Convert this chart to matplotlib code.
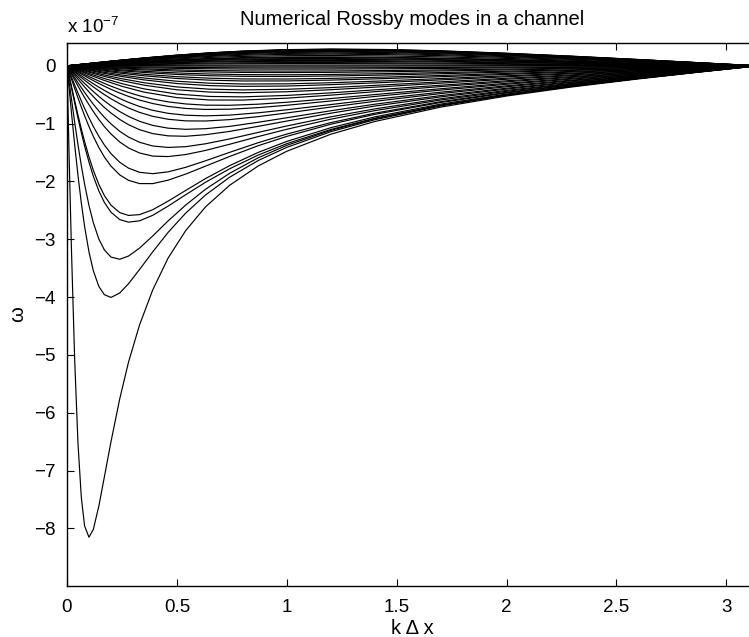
import matplotlib
matplotlib.use("Agg")
import matplotlib.pyplot as plt
import numpy as np

plt.rcParams['font.family'] = ['Liberation Sans', 'DejaVu Sans']

# k*dx sample positions (fine sampling for the deep modes)
kdx_fine = [0, 0.01, 0.02, 0.035, 0.05, 0.065, 0.08, 0.1, 0.12, 0.145, 0.17, 0.2,
            0.24, 0.28, 0.33, 0.39, 0.46, 0.54, 0.63, 0.74, 0.87, 1.0, 1.2, 1.4,
            1.7, 2.0, 2.3, 2.6, 2.9, np.pi]
# coarser sampling for the shallow modes
kdx_coarse = [0, 0.05, 0.1, 0.17, 0.25, 0.35, 0.5, 0.65, 0.8, 1.0, 1.2, 1.45,
              1.7, 2.0, 2.3, 2.6, 2.9, np.pi]

# omega in units of 1e-7 -- deep modes (fine sampling)
mode_01 = [0, -1.617, -3.141, -5.092, -6.531, -7.456, -7.956, -8.152, -8.014, -7.610, -7.109, -6.502, -5.757, -5.122, -4.481, -3.875, -3.324, -2.849, -2.440, -2.065, -1.731, -1.477, -1.183, -0.963, -0.714, -0.522, -0.364, -0.226, -0.099, 0]
mode_02 = [0, -0.402, -0.798, -1.369, -1.897, -2.368, -2.776, -3.218, -3.546, -3.816, -3.957, -4.005, -3.928, -3.767, -3.522, -3.217, -2.880, -2.547, -2.234, -1.926, -1.637, -1.410, -1.139, -0.932, -0.694, -0.507, -0.354, -0.220, -0.096, 0]
mode_03 = [0, -0.175, -0.349, -0.606, -0.853, -1.088, -1.308, -1.575, -1.808, -2.052, -2.243, -2.409, -2.538, -2.587, -2.573, -2.488, -2.340, -2.155, -1.950, -1.726, -1.497, -1.307, -1.070, -0.883, -0.662, -0.488, -0.341, -0.212, -0.093, 0]
mode_04 = [0, -0.096, -0.191, -0.332, -0.471, -0.605, -0.735, -0.898, -1.050, -1.220, -1.369, -1.518, -1.668, -1.769, -1.841, -1.865, -1.833, -1.755, -1.642, -1.496, -1.329, -1.180, -0.982, -0.819, -0.620, -0.459, -0.323, -0.201, -0.088, 0]
mode_05 = [0, -0.059, -0.117, -0.205, -0.291, -0.375, -0.458, -0.564, -0.665, -0.782, -0.890, -1.004, -1.132, -1.232, -1.322, -1.386, -1.411, -1.398, -1.348, -1.264, -1.151, -1.040, -0.882, -0.745, -0.570, -0.425, -0.300, -0.187, -0.082, 0]
mode_06 = [0, -0.039, -0.077, -0.135, -0.192, -0.249, -0.304, -0.376, -0.445, -0.528, -0.606, -0.691, -0.791, -0.875, -0.959, -1.030, -1.078, -1.098, -1.087, -1.047, -0.976, -0.898, -0.777, -0.664, -0.515, -0.387, -0.274, -0.172, -0.076, 0]
mode_07 = [0, -0.027, -0.053, -0.093, -0.133, -0.172, -0.210, -0.261, -0.310, -0.369, -0.425, -0.488, -0.565, -0.632, -0.703, -0.769, -0.821, -0.854, -0.865, -0.852, -0.812, -0.760, -0.670, -0.580, -0.456, -0.345, -0.246, -0.155, -0.068, 0]
mode_08 = [0, -0.019, -0.038, -0.066, -0.094, -0.122, -0.149, -0.185, -0.220, -0.263, -0.304, -0.351, -0.409, -0.461, -0.518, -0.574, -0.623, -0.659, -0.680, -0.682, -0.663, -0.630, -0.566, -0.497, -0.396, -0.302, -0.216, -0.136, -0.060, 0]

alt_1 = [0, -0.285, -0.566, -0.977, -1.365, -1.722, -2.045, -2.415, -2.715, -2.996, -3.183, -3.307, -3.345, -3.289, -3.152, -2.942, -2.682, -2.408, -2.135, -1.858, -1.590, -1.375, -1.116, -0.915, -0.683, -0.502, -0.351, -0.218, -0.095, 0]
alt_2 = [0, -0.186, -0.371, -0.643, -0.905, -1.153, -1.385, -1.666, -1.911, -2.164, -2.362, -2.531, -2.659, -2.703, -2.680, -2.585, -2.426, -2.229, -2.014, -1.780, -1.543, -1.346, -1.101, -0.907, -0.681, -0.501, -0.351, -0.218, -0.096, 0]
alt_3 = [0, -0.113, -0.225, -0.392, -0.555, -0.712, -0.862, -1.050, -1.222, -1.413, -1.576, -1.734, -1.886, -1.980, -2.036, -2.037, -1.977, -1.872, -1.735, -1.567, -1.381, -1.220, -1.010, -0.839, -0.634, -0.469, -0.329, -0.205, -0.090, 0]
alt_4 = [0, -0.071, -0.141, -0.246, -0.349, -0.450, -0.548, -0.673, -0.791, -0.928, -1.050, -1.178, -1.317, -1.420, -1.507, -1.561, -1.569, -1.534, -1.463, -1.356, -1.223, -1.097, -0.923, -0.775, -0.591, -0.440, -0.310, -0.193, -0.085, 0]
alt_5 = [0, -0.047, -0.093, -0.163, -0.232, -0.299, -0.366, -0.451, -0.533, -0.630, -0.720, -0.816, -0.927, -1.018, -1.104, -1.172, -1.211, -1.218, -1.191, -1.134, -1.046, -0.955, -0.819, -0.696, -0.537, -0.402, -0.284, -0.178, -0.078, 0]
alt_6 = [0, -0.032, -0.063, -0.110, -0.157, -0.203, -0.248, -0.307, -0.364, -0.433, -0.497, -0.569, -0.655, -0.729, -0.805, -0.873, -0.924, -0.952, -0.954, -0.930, -0.878, -0.815, -0.713, -0.614, -0.480, -0.362, -0.257, -0.162, -0.071, 0]
alt_7 = [0, -0.022, -0.044, -0.077, -0.110, -0.142, -0.173, -0.215, -0.256, -0.305, -0.352, -0.406, -0.471, -0.529, -0.592, -0.652, -0.702, -0.737, -0.754, -0.750, -0.723, -0.682, -0.608, -0.530, -0.420, -0.319, -0.228, -0.144, -0.063, 0]

# shallow modes (coarse sampling)
mode_09 = [0, -0.0671, -0.1327, -0.2195, -0.3080, -0.3981, -0.4880, -0.5298, -0.5364, -0.5118, -0.4676, -0.4023, -0.3354, -0.2583, -0.1859, -0.1176, -0.0519, 0]
mode_10 = [0, -0.0480, -0.0952, -0.1581, -0.2233, -0.2920, -0.3649, -0.4040, -0.4165, -0.4055, -0.3763, -0.3284, -0.2766, -0.2148, -0.1554, -0.0986, -0.0436, 0]
mode_11 = [0, -0.0339, -0.0673, -0.1122, -0.1593, -0.2101, -0.2666, -0.3000, -0.3140, -0.3111, -0.2928, -0.2590, -0.2202, -0.1723, -0.1254, -0.0798, -0.0354, 0]
mode_12 = [0, -0.0232, -0.0462, -0.0771, -0.1099, -0.1459, -0.1874, -0.2137, -0.2265, -0.2279, -0.2172, -0.1944, -0.1668, -0.1316, -0.0962, -0.0614, -0.0273, 0]
mode_13 = [0, -0.0149, -0.0297, -0.0497, -0.0711, -0.0948, -0.1230, -0.1418, -0.1519, -0.1548, -0.1492, -0.1351, -0.1169, -0.0928, -0.0682, -0.0437, -0.0194, 0]
mode_14 = [0, -0.0084, -0.0167, -0.0279, -0.0400, -0.0537, -0.0702, -0.0816, -0.0882, -0.0909, -0.0885, -0.0809, -0.0706, -0.0564, -0.0416, -0.0267, -0.0119, 0]
mode_15 = [0, -0.0031, -0.0062, -0.0104, -0.0149, -0.0201, -0.0264, -0.0310, -0.0338, -0.0351, -0.0345, -0.0318, -0.0280, -0.0225, -0.0167, -0.0107, -0.0048, 0]
mode_16 = [0, 0.0012, 0.0023, 0.0039, 0.0056, 0.0075, 0.0100, 0.0118, 0.0129, 0.0135, 0.0134, 0.0125, 0.0110, 0.0089, 0.0066, 0.0043, 0.0019, 0]
mode_17 = [0, 0.0047, 0.0093, 0.0156, 0.0225, 0.0305, 0.0405, 0.0480, 0.0529, 0.0560, 0.0557, 0.0522, 0.0464, 0.0377, 0.0282, 0.0182, 0.0082, 0]
mode_18 = [0, 0.0076, 0.0151, 0.0254, 0.0366, 0.0496, 0.0662, 0.0788, 0.0873, 0.0929, 0.0931, 0.0878, 0.0784, 0.0641, 0.0480, 0.0311, 0.0139, 0]
mode_19 = [0, 0.0100, 0.0199, 0.0335, 0.0484, 0.0657, 0.0879, 0.1051, 0.1169, 0.1251, 0.1260, 0.1195, 0.1072, 0.0880, 0.0661, 0.0430, 0.0193, 0]
mode_20 = [0, 0.0120, 0.0240, 0.0404, 0.0583, 0.0792, 0.1063, 0.1275, 0.1424, 0.1531, 0.1549, 0.1476, 0.1330, 0.1096, 0.0826, 0.0537, 0.0241, 0]
mode_21 = [0, 0.0136, 0.0271, 0.0457, 0.0660, 0.0898, 0.1208, 0.1452, 0.1627, 0.1757, 0.1785, 0.1709, 0.1546, 0.1278, 0.0966, 0.0630, 0.0283, 0]
mode_22 = [0, 0.0152, 0.0302, 0.0509, 0.0737, 0.1003, 0.1352, 0.1629, 0.1830, 0.1983, 0.2020, 0.1941, 0.1761, 0.1460, 0.1106, 0.0722, 0.0324, 0]
mode_23 = [0, 0.0163, 0.0324, 0.0547, 0.0792, 0.1078, 0.1456, 0.1757, 0.1978, 0.2150, 0.2197, 0.2118, 0.1927, 0.1602, 0.1216, 0.0795, 0.0357, 0]
mode_24 = [0, 0.0174, 0.0346, 0.0584, 0.0846, 0.1153, 0.1559, 0.1885, 0.2126, 0.2316, 0.2373, 0.2294, 0.2092, 0.1744, 0.1325, 0.0867, 0.0390, 0]
mode_25 = [0, 0.0182, 0.0362, 0.0610, 0.0884, 0.1205, 0.1631, 0.1974, 0.2230, 0.2434, 0.2499, 0.2422, 0.2213, 0.1848, 0.1406, 0.0921, 0.0415, 0]
mode_26 = [0, 0.0189, 0.0377, 0.0635, 0.0921, 0.1257, 0.1702, 0.2063, 0.2333, 0.2552, 0.2625, 0.2549, 0.2334, 0.1952, 0.1487, 0.0975, 0.0439, 0]
mode_27 = [0, 0.0194, 0.0387, 0.0652, 0.0945, 0.1290, 0.1748, 0.2121, 0.2401, 0.2630, 0.2708, 0.2634, 0.2415, 0.2022, 0.1542, 0.1012, 0.0456, 0]
mode_28 = [0, 0.0199, 0.0396, 0.0668, 0.0969, 0.1323, 0.1794, 0.2179, 0.2468, 0.2707, 0.2791, 0.2718, 0.2495, 0.2092, 0.1597, 0.1048, 0.0472, 0]
mode_29 = [0, 0.0201, 0.0400, 0.0675, 0.0979, 0.1337, 0.1813, 0.2203, 0.2496, 0.2739, 0.2826, 0.2754, 0.2529, 0.2122, 0.1620, 0.1064, 0.0479, 0]
mode_30 = [0, 0.0203, 0.0404, 0.0681, 0.0988, 0.1350, 0.1832, 0.2227, 0.2525, 0.2772, 0.2861, 0.2789, 0.2563, 0.2151, 0.1644, 0.1079, 0.0487, 0]
mode_31 = [0, 0.0205, 0.0408, 0.0688, 0.0998, 0.1364, 0.1851, 0.2251, 0.2553, 0.2804, 0.2896, 0.2825, 0.2597, 0.2181, 0.1667, 0.1095, 0.0494, 0]

alt_8 = [0, -0.078, -0.154, -0.253, -0.354, -0.454, -0.550, -0.591, -0.592, -0.559, -0.507, -0.433, -0.359, -0.276, -0.198, -0.125, -0.055, 0]
alt_9 = [0, -0.056, -0.110, -0.183, -0.257, -0.334, -0.414, -0.454, -0.465, -0.448, -0.413, -0.358, -0.300, -0.232, -0.168, -0.106, -0.047, 0]
alt_10 = [0, -0.040, -0.078, -0.131, -0.185, -0.243, -0.306, -0.342, -0.355, -0.349, -0.326, -0.287, -0.243, -0.189, -0.137, -0.087, -0.039, 0]
alt_11 = [0, -0.028, -0.055, -0.091, -0.130, -0.172, -0.219, -0.248, -0.262, -0.261, -0.247, -0.220, -0.188, -0.148, -0.108, -0.069, -0.031, 0]
alt_12 = [0, -0.018, -0.036, -0.061, -0.087, -0.115, -0.149, -0.171, -0.182, -0.184, -0.176, -0.159, -0.137, -0.108, -0.079, -0.051, -0.023, 0]
alt_13 = [0, -0.011, -0.022, -0.037, -0.052, -0.070, -0.091, -0.106, -0.114, -0.116, -0.113, -0.103, -0.089, -0.071, -0.052, -0.034, -0.015, 0]
alt_14 = [0, -0.005, -0.010, -0.017, -0.025, -0.034, -0.044, -0.051, -0.056, -0.057, -0.056, -0.051, -0.045, -0.036, -0.027, -0.017, -0.008, 0]
alt_15 = [0, -0.0005, -0.0011, -0.0019, -0.0026, -0.0035, -0.0046, -0.0053, -0.0058, -0.0059, -0.0058, -0.0052, -0.0046, -0.0037, -0.0027, -0.0017, -0.0008, 0]
alt_16 = [0, 0.0033, 0.0065, 0.0110, 0.0157, 0.0213, 0.0283, 0.0335, 0.0369, 0.0390, 0.0388, 0.0363, 0.0322, 0.0262, 0.0195, 0.0126, 0.0057, 0]
alt_17 = [0, 0.0065, 0.0128, 0.0214, 0.0310, 0.0420, 0.0559, 0.0665, 0.0736, 0.0781, 0.0782, 0.0736, 0.0656, 0.0536, 0.0401, 0.0260, 0.0116, 0]
alt_18 = [0, 0.0090, 0.0179, 0.0303, 0.0436, 0.0592, 0.0792, 0.0946, 0.1050, 0.1123, 0.1128, 0.1068, 0.0957, 0.0784, 0.0589, 0.0382, 0.0172, 0]
alt_19 = [0, 0.0112, 0.0224, 0.0376, 0.0544, 0.0738, 0.0990, 0.1185, 0.1322, 0.1419, 0.1433, 0.1364, 0.1227, 0.1010, 0.0760, 0.0494, 0.0222, 0]

fine_curves = [mode_01, mode_02, mode_03, mode_04, mode_05, mode_06, mode_07,
               mode_08, alt_1, alt_2, alt_3, alt_4, alt_5, alt_6, alt_7]
coarse_curves = [mode_09, mode_10, mode_11, mode_12, mode_13, mode_14, mode_15,
                 mode_16, mode_17, mode_18, mode_19, mode_20, mode_21, mode_22,
                 mode_23, mode_24, mode_25, mode_26, mode_27, mode_28, mode_29,
                 mode_30, mode_31,
                 alt_8, alt_9, alt_10, alt_11, alt_12, alt_13, alt_14, alt_15,
                 alt_16, alt_17, alt_18, alt_19]

xticks = [0, 0.5, 1, 1.5, 2, 2.5, 3]
yticks = [0, -1, -2, -3, -4, -5, -6, -7, -8]

W, H = 749, 637
fig = plt.figure(figsize=(W / 100, H / 100), dpi=100)
ax = fig.add_axes([67 / W, (H - 586.3) / H, 690.5 / W, 543.6 / H])

for c in fine_curves:
    ax.plot(kdx_fine, c, color='black', lw=0.85)
for c in coarse_curves:
    ax.plot(kdx_coarse, c, color='black', lw=0.85)

ax.set_xlim(0, np.pi)
ax.set_ylim(-9, 0.4)
ax.set_xticks(xticks)
ax.set_xticklabels([f"{t:g}" for t in xticks])
ax.set_yticks(yticks)
ax.set_yticklabels([f"{t:d}".replace('-', '\u2212') for t in yticks])
ax.tick_params(direction='in', length=5, width=0.8, top=True, right=True,
               labelsize=13.5, colors='black')
ax.tick_params(axis='x', pad=9)
ax.tick_params(axis='y', pad=8)
for s in ax.spines.values():
    s.set_linewidth(1.0)

ax.set_title('Numerical Rossby modes in a channel', fontsize=14.5, pad=13)
ax.set_xlabel('k \u0394 x', fontsize=14.5)
ax.xaxis.set_label_coords(0.5, (586.3 - 619) / 543.6)
ax.set_ylabel('\u03c9', fontsize=14.5)
ax.yaxis.set_label_coords((27 - 67) / 690.5, 0.5)
fig.text(67 / W, 1 - 33 / H, 'x 10$^{\\mathregular{\u22127}}$', fontsize=13.5,
         ha='left', va='baseline')

fig.savefig('out.png', dpi=100)
